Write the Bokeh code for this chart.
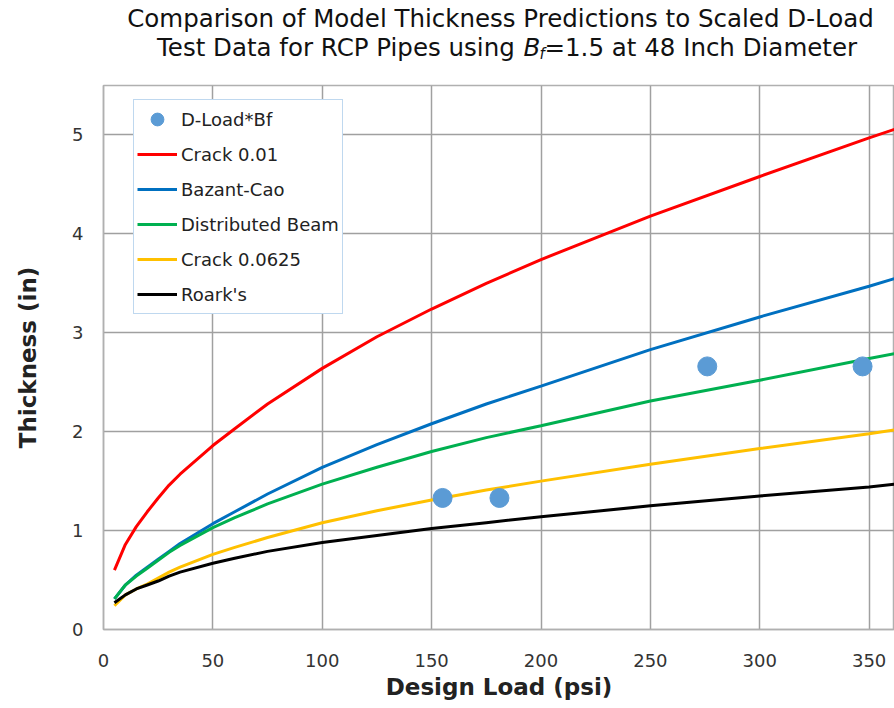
from bokeh.plotting import figure
from bokeh.models import Range1d, Legend, LegendItem, FixedTicker
from bokeh.layouts import column
from bokeh.core.properties import value
from bokeh.embed import file_html
from bokeh.resources import INLINE

# ---- data ----
design_load = [5, 10, 15, 20, 25, 30, 35, 50, 60, 75, 100, 125, 150, 175, 200, 250, 300, 350, 362]
crack_001 = [0.60, 0.86, 1.04, 1.19, 1.33, 1.46, 1.57, 1.86, 2.03, 2.28, 2.64, 2.96, 3.24, 3.50, 3.74, 4.18, 4.58, 4.97, 5.06]
bazant_cao = [0.31, 0.45, 0.55, 0.63, 0.71, 0.79, 0.87, 1.07, 1.19, 1.37, 1.64, 1.87, 2.08, 2.28, 2.46, 2.83, 3.16, 3.47, 3.55]
distributed_beam = [0.31, 0.45, 0.54, 0.62, 0.70, 0.78, 0.85, 1.03, 1.13, 1.27, 1.47, 1.64, 1.80, 1.94, 2.06, 2.31, 2.52, 2.74, 2.79]
crack_00625 = [0.24, 0.35, 0.41, 0.46, 0.52, 0.58, 0.63, 0.76, 0.83, 0.93, 1.08, 1.20, 1.31, 1.41, 1.50, 1.67, 1.83, 1.98, 2.02]
roarks = [0.27, 0.35, 0.41, 0.45, 0.49, 0.54, 0.58, 0.67, 0.72, 0.79, 0.88, 0.95, 1.02, 1.08, 1.14, 1.25, 1.35, 1.44, 1.47]

dload_x = [155, 181, 276, 347]
dload_y = [1.33, 1.33, 2.66, 2.66]

x_ticks = [0, 50, 100, 150, 200, 250, 300, 350]
y_ticks = [0, 1, 2, 3, 4, 5]

title_line1 = "Comparison of Model Thickness Predictions to Scaled D-Load"
title_line2_left = "Test Data for RCP Pipes using "
title_line2_b = "B"
title_line2_sub = "f"
title_line2_right = "=1.5 at 48 Inch Diameter"

FONT = "DejaVu Sans"
W = 894
LEFT = 103
TITLE_H = 83

# ---- title strip (its frame starts at page x = LEFT; x below is page x - LEFT) ----
t = figure(width=W, height=TITLE_H, output_backend="svg", toolbar_location=None,
           x_range=Range1d(0, W - LEFT), y_range=Range1d(TITLE_H, 0),
           x_axis_location=None, y_axis_location=None,
           min_border_left=LEFT, min_border_right=0, min_border_top=0, min_border_bottom=0)
t.grid.visible = False
t.outline_line_color = None
t.background_fill_color = "white"
t.border_fill_color = "white"

tc = "#111111"
t.text(x=[500 - LEFT], y=[18], text=[title_line1], text_font=value(FONT), text_font_size="24.5px",
       text_color=tc, text_align="center", text_baseline="middle")
bx = 522 - LEFT
t.text(x=[bx], y=[47], text=[title_line2_left], text_font=value(FONT), text_font_size="24.5px",
       text_color=tc, text_align="right", text_baseline="middle")
t.text(x=[bx + 1], y=[47], text=[title_line2_b], text_font=value(FONT), text_font_size="24.5px",
       text_font_style="italic", text_color=tc, text_align="left", text_baseline="middle")
t.text(x=[bx + 17], y=[53], text=[title_line2_sub], text_font=value(FONT), text_font_size="15px",
       text_font_style="italic", text_color=tc, text_align="left", text_baseline="middle")
t.text(x=[bx + 22], y=[47], text=[title_line2_right], text_font=value(FONT), text_font_size="24.5px",
       text_color=tc, text_align="left", text_baseline="middle")

# ---- main chart ----
p = figure(width=W, height=623, output_backend="svg", toolbar_location=None,
           x_range=Range1d(0, 361.6), y_range=Range1d(0, 5.5),
           min_border_left=LEFT, min_border_right=0, min_border_top=2,
           min_border_bottom=77)

p.background_fill_color = "white"
p.border_fill_color = "white"
p.outline_line_color = "#b0b0b0"
p.outline_line_width = 1.5

for ax in (p.xaxis[0], p.yaxis[0]):
    ax.major_tick_out = 0
    ax.major_tick_in = 0
    ax.minor_tick_out = 0
    ax.minor_tick_in = 0
    ax.axis_line_color = "#b0b0b0"
    ax.axis_line_width = 1.5
    ax.major_label_text_font = FONT
    ax.major_label_text_font_size = "18px"
    ax.major_label_text_color = "#333333"
    ax.axis_label_text_font = FONT
    ax.axis_label_text_font_size = "23px"
    ax.axis_label_text_font_style = "bold"
    ax.axis_label_text_color = "#222222"

p.xaxis[0].ticker = FixedTicker(ticks=x_ticks)
p.yaxis[0].ticker = FixedTicker(ticks=y_ticks)
p.xaxis[0].axis_label = "Design Load (psi)"
p.yaxis[0].axis_label = "Thickness (in)"
p.xaxis[0].major_label_standoff = 24
p.xaxis[0].axis_label_standoff = 4
p.yaxis[0].major_label_standoff = 20
p.yaxis[0].axis_label_standoff = 28

p.xgrid.grid_line_color = "#a0a0a0"
p.xgrid.grid_line_width = 1.5
p.ygrid.grid_line_color = "#a0a0a0"
p.ygrid.grid_line_width = 1.5

r_red = p.line(design_load, crack_001, line_color="#ff0000", line_width=3)
r_blue = p.line(design_load, bazant_cao, line_color="#0070c0", line_width=3)
r_green = p.line(design_load, distributed_beam, line_color="#00b050", line_width=3)
r_yellow = p.line(design_load, crack_00625, line_color="#ffc000", line_width=3)
r_black = p.line(design_load, roarks, line_color="#000000", line_width=3)
r_dots = p.scatter(dload_x, dload_y, size=19, fill_color="#5b9bd5", line_color="#5b9bd5")

legend = Legend(items=[
    LegendItem(label="D-Load*Bf", renderers=[r_dots]),
    LegendItem(label="Crack 0.01", renderers=[r_red]),
    LegendItem(label="Bazant-Cao", renderers=[r_blue]),
    LegendItem(label="Distributed Beam", renderers=[r_green]),
    LegendItem(label="Crack 0.0625", renderers=[r_yellow]),
    LegendItem(label="Roark's", renderers=[r_black]),
], location=(30, 315))
legend.margin = 0
legend.padding = 3
legend.glyph_width = 40
legend.glyph_height = 32
legend.label_height = 32
legend.spacing = 3
legend.label_standoff = 4
legend.label_text_font = FONT
legend.label_text_font_size = "18px"
legend.label_text_color = "#222222"
legend.border_line_color = "#7fb2e0"
legend.border_line_width = 1.5
legend.background_fill_color = "white"
legend.background_fill_alpha = 1.0
p.add_layout(legend, "center")

layout = column(t, p, spacing=0)
open("out.html", "w").write(file_html(layout, INLINE))
